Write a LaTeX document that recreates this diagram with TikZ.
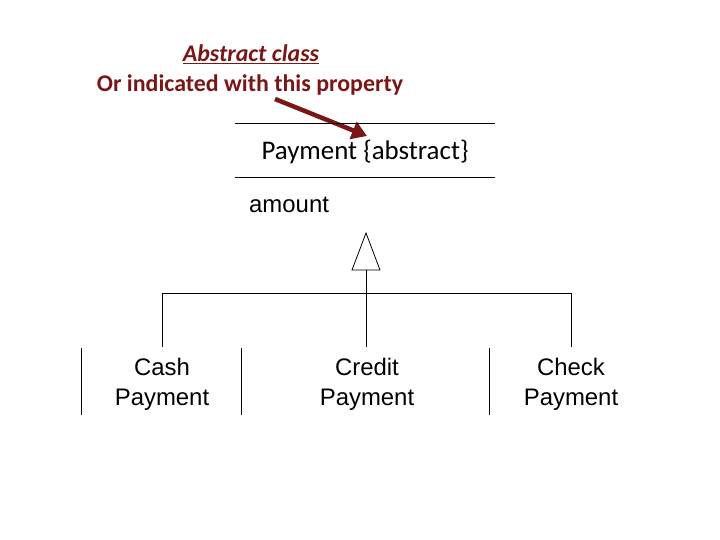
\documentclass[tikz,border=0pt]{standalone}
\usepackage{fontspec}
\setmainfont{Liberation Sans}
\newfontfamily\calib{Carlito}
\usetikzlibrary{arrows.meta}
\definecolor{darkred}{RGB}{122,22,22}
\tikzset{
  note/.style={text=darkred, font=\calib\fontsize{24}{28}\selectfont\bfseries, inner sep=0pt, anchor=base},
  uml/.style={font=\fontsize{24}{30}\selectfont, inner sep=0pt, anchor=base, align=center},
  ln/.style={draw=black, line width=0.8pt},
  callout/.style={draw=darkred, line width=4.5pt, -{Triangle[length=15bp,width=18bp]}}
}
\begin{document}
\begin{tikzpicture}[x=1bp,y=-1bp]
\useasboundingbox (0,0) rectangle (720,540);
% annotation
\node[note, font=\calib\fontsize{24}{28}\selectfont\bfseries\itshape] (abs) at (251,62) {\underline{Abstract class}};
\node[note] (ind) at (250,92) {Or indicated with this property};
\coordinate (arrS) at (275,99);
\coordinate (arrE) at (367,136);
\draw[callout] (arrS) -- (arrE);
% Payment class
\coordinate (topL) at (235,123);
\coordinate (topR) at (495,123);
\coordinate (midL) at (235,177);
\coordinate (midR) at (495,177);
\draw[ln] (topL) -- (topR);
\draw[ln] (midL) -- (midR);
\node[uml, font=\calib\fontsize{27}{30}\selectfont] (pay) at (365,160) {Payment \{abstract\}};
\node[uml, anchor=base west] (amt) at (249,213) {amount};
% generalization
\coordinate (apex) at (366,233);
\coordinate (baseL) at (352,270);
\coordinate (baseR) at (380,270);
\coordinate (baseM) at (366,270);
\draw[ln] (apex) -- (baseL) -- (baseR) -- cycle;
\coordinate (jM) at (366,293);
\coordinate (jL) at (162,293);
\coordinate (jR) at (571,293);
\coordinate (cashT) at (162,347);
\coordinate (credT) at (366,347);
\coordinate (checkT) at (571,347);
\draw[ln] (baseM) -- (credT);
\draw[ln] (jL) -- (jR);
\draw[ln] (jL) -- (cashT);
\draw[ln] (jR) -- (checkT);
% subclass box edges
\coordinate (e1a) at (81,348);  \coordinate (e1b) at (81,415);
\coordinate (e2a) at (241,348); \coordinate (e2b) at (241,415);
\coordinate (e3a) at (489,348); \coordinate (e3b) at (489,415);
\draw[ln] (e1a) -- (e1b);
\draw[ln] (e2a) -- (e2b);
\draw[ln] (e3a) -- (e3b);
% subclasses
\node[uml] (cash) at (162,405) {Cash\\Payment};
\node[uml] (cred) at (367,405) {Credit\\Payment};
\node[uml] (check) at (571,405) {Check\\Payment};
\end{tikzpicture}
\end{document}
